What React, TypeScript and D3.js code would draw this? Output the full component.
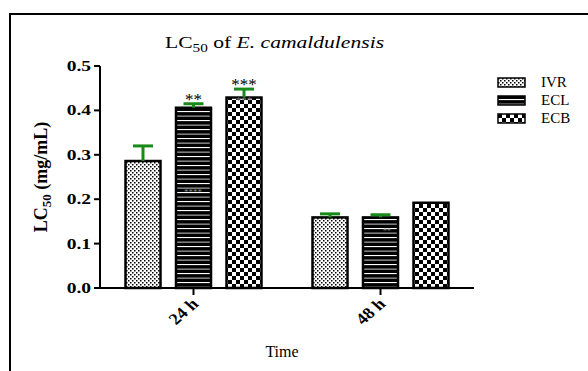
import React from "react";
import * as d3 from "d3";

const categories = ["24 h", "48 h"];
const series = ["IVR", "ECL", "ECB"];
const ivrValues = [0.286, 0.159];
const eclValues = [0.406, 0.159];
const ecbValues = [0.429, 0.192];
const ivrErrors = [0.034, 0.008];
const eclErrors = [0.009, 0.006];
const ecbErrors = [0.019, 0];
const yTicks = [0.0, 0.1, 0.2, 0.3, 0.4, 0.5];
const stars = [["", "**", "***"], ["", "", ""]];

const values = [ivrValues, eclValues, ecbValues];
const errors = [ivrErrors, eclErrors, ecbErrors];
const patterns = ["pIVR", "pECL", "pECB"];

const FONT = "'Liberation Serif', 'Times New Roman', serif";
const GREEN = "#198a19";

export default function App() {
  const y = d3.scaleLinear().domain([0, 0.5]).range([288, 66]);
  const x = d3.scaleBand().domain(categories).range([100, 474]).padding(0);
  const bw = x.bandwidth();
  const xs = d3
    .scaleBand()
    .domain(series)
    .range([bw / 2 - 75.75, bw / 2 + 75.75])
    .paddingInner(0.307)
    .paddingOuter(0.1535);
  const w = xs.bandwidth();

  return (
    <svg width={588} height={371} style={{ position: "absolute", left: 0, top: 0 }}>
      <defs>
        <pattern id="pIVR" width={4} height={4} patternUnits="userSpaceOnUse">
          <rect width={4} height={4} fill="#fff" />
          <rect x={0} y={0} width={1.5} height={1.5} fill="#000" />
          <rect x={2} y={2} width={1.5} height={1.5} fill="#000" />
        </pattern>
        <pattern id="pECL" width={9} height={9} patternUnits="userSpaceOnUse">
          <rect width={9} height={9} fill="#000" />
          <rect x={0} y={3} width={9} height={1.1} fill="#fff" />
          <rect x={0} y={7.5} width={9} height={1.3} fill="#9a9a9a" />
        </pattern>
        <pattern id="pECB" width={8} height={8} patternUnits="userSpaceOnUse">
          <rect width={8} height={8} fill="#fff" />
          <rect x={0} y={0} width={4} height={4} fill="#000" />
          <rect x={4} y={4} width={4} height={4} fill="#000" />
        </pattern>
      </defs>
      <rect x={0} y={0} width={588} height={371} fill="#fff" />
      {/* frame */}
      <path d="M10,371 L10,14 L588,14" fill="none" stroke="#000" strokeWidth={2} />

      {/* title */}
      <text
        transform="translate(165,48) scale(1.27,1)"
        fontFamily={FONT}
        fontSize={17}
        fill="#000"
      >
        LC<tspan fontSize={12} dy={4}>50</tspan>
        <tspan dy={-4}> of </tspan>
        <tspan fontStyle="italic">E. camaldulensis</tspan>
      </text>

      {/* bars */}
      {categories.map((c, ci) => (
        <g key={c} transform={`translate(${x(c)},0)`}>
          {series.map((s, si) => {
            const v = values[si][ci];
            const e = errors[si][ci];
            const bx = xs(s) as number;
            const cx = bx + w / 2;
            return (
              <g key={s}>
                <rect
                  x={bx}
                  y={y(v)}
                  width={w}
                  height={y(0) - y(v)}
                  fill={`url(#${patterns[si]})`}
                  stroke="#000"
                  strokeWidth={2.5}
                />
                {e > 0 && (
                  <g stroke={GREEN} strokeWidth={3}>
                    <line x1={cx} x2={cx} y1={y(v)} y2={y(v + e)} />
                    <line x1={cx - 10} x2={cx + 10} y1={y(v + e)} y2={y(v + e)} />
                  </g>
                )}
                {stars[ci][si] && (
                  <text
                    x={cx}
                    y={y(v + e) + 1}
                    textAnchor="middle"
                    fontFamily={FONT}
                    fontSize={17}
                    fill="#000"
                  >
                    {stars[ci][si]}
                  </text>
                )}
              </g>
            );
          })}
        </g>
      ))}

      {/* faint artifacts */}
      <text x={244} y={104} textAnchor="middle" fontFamily={FONT} fontSize={11} fill="#777">***</text>
      <text x={193} y={195} textAnchor="middle" fontFamily={FONT} fontSize={9} fill="#888">****</text>
      <text x={387} y={234} textAnchor="middle" fontFamily={FONT} fontSize={8} fill="#888">**</text>

      {/* y axis */}
      <line x1={100} x2={100} y1={y(0.5)} y2={y(0) + 1} stroke="#000" strokeWidth={2} />
      {yTicks.map((t) => (
        <g key={t}>
          <line x1={94} x2={100} y1={y(t)} y2={y(t)} stroke="#000" strokeWidth={2} />
          <text
            transform={`translate(91,${y(t) + 5}) scale(1.3,1)`}
            textAnchor="end"
            fontFamily={FONT}
            fontWeight="bold"
            fontSize={15}
            fill="#000"
          >
            {d3.format(".1f")(t)}
          </text>
        </g>
      ))}

      {/* x axis */}
      <line x1={99} x2={474} y1={y(0)} y2={y(0)} stroke="#000" strokeWidth={2} />
      {categories.map((c) => {
        const cx = (x(c) as number) + bw / 2;
        return (
          <g key={c}>
            <line x1={cx} x2={cx} y1={y(0)} y2={y(0) + 7} stroke="#000" strokeWidth={2} />
            <text
              transform={`translate(${cx + 6},${y(0) + 17}) scale(1.15,1) rotate(-45)`}
              textAnchor="end"
              fontFamily={FONT}
              fontWeight="bold"
              fontSize={16}
              fill="#000"
            >
              {c}
            </text>
          </g>
        );
      })}

      {/* axis titles */}
      <text
        x={282}
        y={357}
        textAnchor="middle"
        fontFamily={FONT}
        fontSize={16}
        fill="#000"
      >
        Time
      </text>
      <text
        transform="translate(47,177) rotate(-90)"
        textAnchor="middle"
        fontFamily={FONT}
        fontWeight="bold"
        fontSize={18}
        fill="#000"
      >
        LC<tspan fontSize={13} dy={4}>50</tspan>
        <tspan dy={-4}> (mg/mL)</tspan>
      </text>

      {/* legend */}
      {series.map((s, i) => (
        <g key={s} transform={`translate(498,${78 + i * 18})`}>
          <rect x={0} y={0} width={27} height={9} fill={`url(#${patterns[i]})`} stroke="#000" strokeWidth={1.5} />
          <text x={43} y={9} fontFamily={FONT} fontSize={15} fill="#000">
            {s}
          </text>
        </g>
      ))}
    </svg>
  );
}
